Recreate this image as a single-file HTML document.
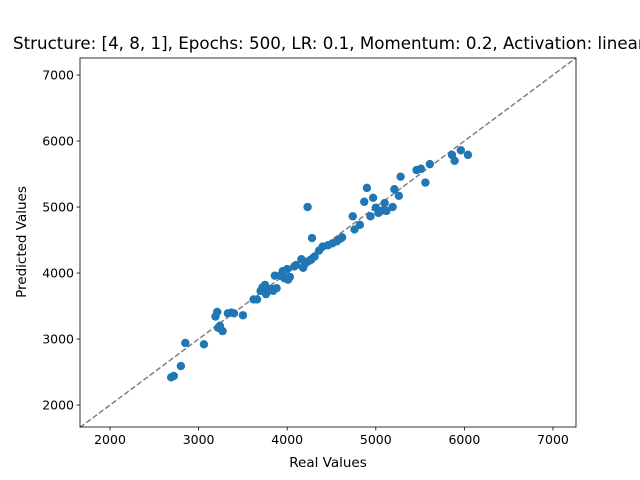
<!DOCTYPE html>
<html><head><meta charset="utf-8"><style>
body{margin:0;background:#fff;overflow:hidden;}
svg{display:block;font-family:"DejaVu Sans","Liberation Sans",sans-serif;}
</style></head><body>
<svg id="chart" width="640" height="480" viewBox="0 0 640 480" xmlns="http://www.w3.org/2000/svg">
<rect width="640" height="480" fill="#fff"/>
<text x="13" y="49" font-size="16.7" text-anchor="start">Structure: [4, 8, 1], Epochs: 500, LR: 0.1, Momentum: 0.2, Activation: linear</text>
<g id="plot"></g>
<text x="328" y="467" font-size="13.5" text-anchor="middle">Real Values</text>
<text x="26" y="242" font-size="13.5" text-anchor="middle" transform="rotate(-90 26 242)">Predicted Values</text>
</svg>
<script>
const realValues=[2690,2720,2800,2850,3060,3190,3210,3220,3240,3270,3330,3370,3400,3500,3620,3660,3700,3720,3750,3760,3790,3820,3840,3860,3880,3920,3950,3970,4000,4010,4030,4080,4100,4160,4180,4200,4230,4240,4270,4280,4310,4360,4400,4460,4510,4560,4600,4620,4740,4760,4820,4870,4900,4940,4970,5000,5030,5080,5100,5120,5190,5210,5260,5280,5460,5510,5560,5610,5860,5890,5960,6040];
const predictedValues=[2420,2440,2590,2940,2920,3340,3410,3170,3200,3120,3390,3400,3390,3360,3600,3600,3730,3780,3820,3680,3740,3760,3730,3960,3770,3960,4030,3920,4060,3900,3940,4100,4120,4210,4080,4140,5000,4180,4200,4530,4250,4340,4400,4420,4450,4480,4520,4540,4860,4660,4730,5080,5290,4860,5140,4990,4910,4950,5060,4940,5000,5270,5170,5460,5560,5580,5370,5650,5790,5700,5860,5790];
const xTicks=[2000,3000,4000,5000,6000,7000];
const yTicks=[2000,3000,4000,5000,6000,7000];
const L=80,R=576,T=58,B=427,MIN=1661,MAX=7260;
const ymin=1667,ymax=7258;
function sx(v){return L+(v-MIN)/(MAX-MIN)*(R-L);}
function sy(v){return B-(v-ymin)/(ymax-ymin)*(B-T);}
const NS="http://www.w3.org/2000/svg";
const g=document.getElementById('plot');
function el(t,a){const e=document.createElementNS(NS,t);for(const k in a)e.setAttribute(k,a[k]);g.appendChild(e);return e;}
const dl=el('line',{x1:L,y1:sy(MIN),x2:R,y2:sy(MAX),stroke:'#808080','stroke-width':1.5,'stroke-dasharray':'5.5,2.4'});


realValues.forEach((x,i)=>{
 const c=el('circle',{cx:sx(x),cy:sy(predictedValues[i]),r:4.2,fill:'#1f77b4'});
 
 
});
const fr=el('rect',{x:L,y:T,width:R-L,height:B-T,fill:'none',stroke:'#000','stroke-width':0.8});


xTicks.forEach(v=>{
 const x=sx(v);
 el('line',{x1:x,y1:B,x2:x,y2:B+3.5,stroke:'#000','stroke-width':0.8});
 const t=el('text',{x:x,y:B+17,'font-size':12.5,'text-anchor':'middle'});t.textContent=v;
 
 
});
yTicks.forEach(v=>{
 const y=sy(v);
 el('line',{x1:L-3.5,y1:y,x2:L,y2:y,stroke:'#000','stroke-width':0.8});
 const t=el('text',{x:L-6,y:y+4.5,'font-size':12.5,'text-anchor':'end'});t.textContent=v;
 
 
});
</script>
</body></html>
